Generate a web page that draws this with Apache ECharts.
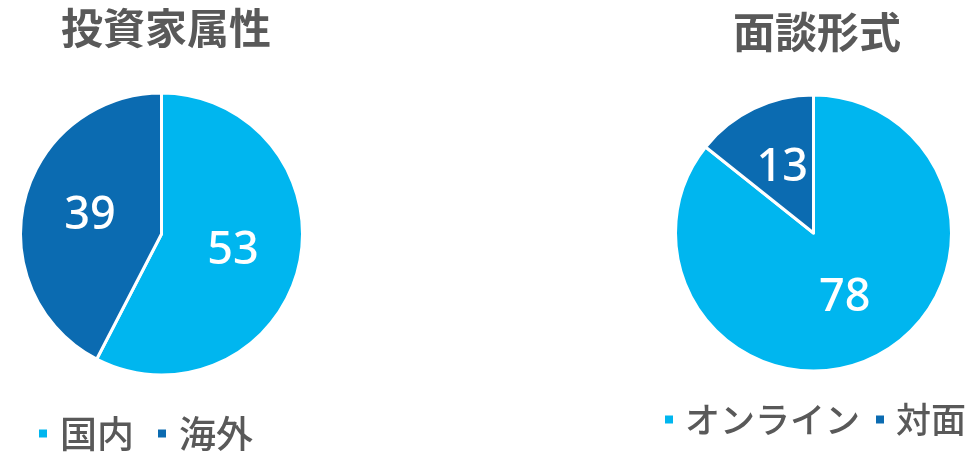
<!DOCTYPE html>
<html><head><meta charset="utf-8">
<script src="https://cdn.jsdelivr.net/npm/echarts@6/dist/echarts.min.js"></script>
<style>html,body{margin:0;padding:0;background:#fff}#c{width:976px;height:453px}</style>
</head><body><div id="c"></div>
<script>
const titles = ['投資家属性', '面談形式'];
const investorCats = ['国内', '海外'];
const investorVals = [53, 39];
const meetingCats = ['オンライン', '対面'];
const meetingVals = [78, 13];
const colors = ['#00B6EF', '#0B6BB1'];

const chart = echarts.init(document.getElementById('c'));
const jp = '"Noto Sans CJK JP", sans-serif';
function pieSeries(name, cats, vals, center, radius) {
  return {
    type: 'pie', name: name, center: center, radius: radius,
    startAngle: 90, clockwise: true, animation: false,
    itemStyle: { borderColor: '#fff', borderWidth: 3 },
    label: { show: true, position: 'inside', formatter: '{c}', color: '#fff',
      fontSize: 45, fontWeight: 500, fontFamily: '"Noto Sans", sans-serif' },
    labelLine: { show: false },
    emphasis: { disabled: true },
    data: cats.map((c, i) => ({ name: c, value: vals[i], itemStyle: { color: colors[i] } }))
  };
}
const legendText = { fontSize: 37, fontWeight: 500, color: '#595959', fontFamily: jp, padding: [0, 0, 0, 7] };
const legendText2 = { fontSize: 35, fontWeight: 500, color: '#595959', fontFamily: jp, padding: [0, 0, 0, 6] };
chart.setOption({
  backgroundColor: '#fff',
  title: [
    { text: titles[0], left: 161, top: 2, textAlign: 'center',
      textStyle: { fontSize: 42, fontWeight: 'bold', color: '#595959', fontFamily: jp } },
    { text: titles[1], left: 812, top: 6, textAlign: 'center',
      textStyle: { fontSize: 42, fontWeight: 'bold', color: '#595959', fontFamily: jp } }
  ],
  legend: [
    { data: investorCats, left: 32, top: 410, width: 300, itemWidth: 10, itemHeight: 10, itemGap: 22,
      icon: 'rect', selectedMode: false, textStyle: legendText },
    { data: meetingCats, left: 663, top: 402, width: 313, itemWidth: 10, itemHeight: 10, itemGap: 14,
      padding: 0, icon: 'rect', selectedMode: false, textStyle: legendText2 }
  ],
  series: [
    pieSeries(titles[0], investorCats, investorVals, [161.5, 234], [0, 141]),
    pieSeries(titles[1], meetingCats, meetingVals, [813.5, 233], [0, 138])
  ]
});
</script></body></html>
